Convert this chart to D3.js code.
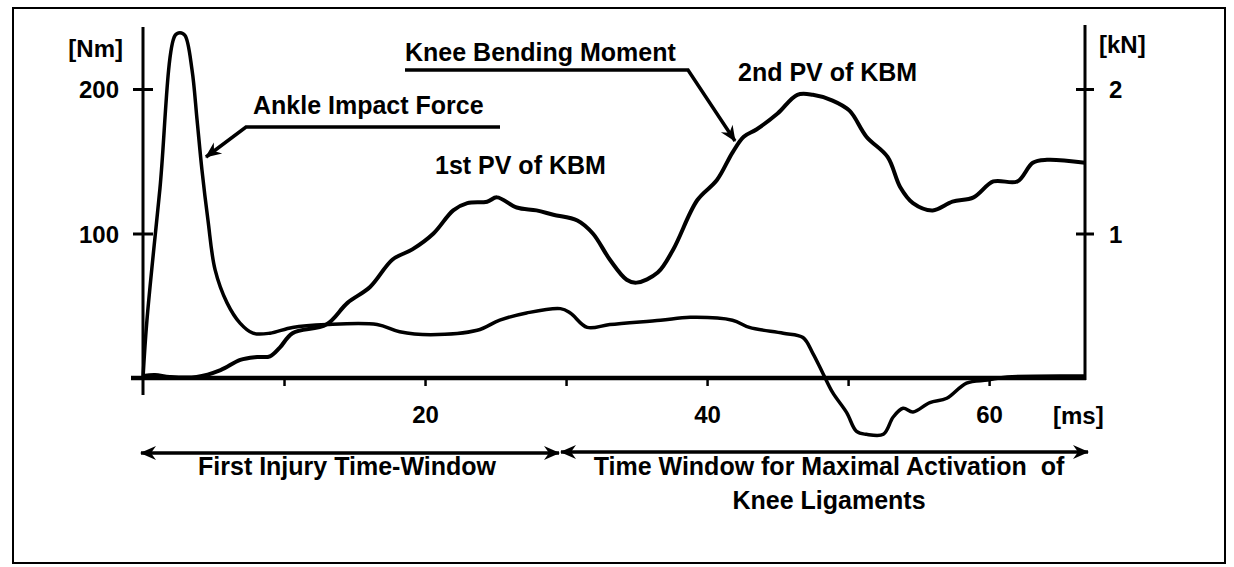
<!DOCTYPE html>
<html>
  <head>
    <meta charset="utf-8" />
    <title>Knee Bending Moment and Ankle Impact Force</title>
    <script src="https://cdnjs.cloudflare.com/ajax/libs/d3/7.8.5/d3.min.js"></script>
    <style>
      body { margin: 0; background: #fff; }
      text { font-family: "Liberation Sans", Arial, sans-serif; font-weight: bold; fill: #000; }
    </style>
  </head>
  <body>
    <div id="chart"></div>
    <script>
  // time [ms]
  var kbmTime = [0, 0.85, 1.9, 3.8, 5.5, 6.9, 8.1, 9.0, 9.7, 10.6, 13.0, 14.5, 16.1, 17.7, 19.1, 20.6, 22.0, 23.0, 24.4, 25.1,
    26.5, 27.9, 29.1, 30.8, 31.9, 33.1, 34.3, 35.0, 36.5, 37.6, 39.3, 40.7, 41.8, 42.6, 43.5, 45.0, 46.4, 47.5, 48.9, 50.1,
    51.3, 52.8, 53.7, 54.6, 56.0, 57.4, 58.9, 60.3, 62.0, 63.1, 64.1, 66.8];
  // knee bending moment [Nm]
  var kbmValue = [1.4, 2, 0.7, 0.7, 5.5, 12.5, 14.5, 15, 21, 31, 37, 52, 63, 82, 89, 100, 116, 121, 122, 125,
    118, 116, 113, 109, 100, 82, 68, 66, 73, 89, 123, 137, 156, 167, 172, 183, 196, 196, 192, 185,
    167, 153, 132, 121, 116, 122, 125, 136, 136, 149, 151, 149];

  var aifTime = [0, 0.28, 1.2, 2.27, 2.62, 2.98, 3.48, 3.83, 4.18, 4.61, 5.11, 5.96, 6.88, 7.8, 9.0, 10.6, 13.0, 16.6, 18.2, 20.4,
    23.7, 25.3, 27.2, 29.6, 30.3, 31.5, 33.1, 36.7, 38.8, 41.8, 43.0, 45.4, 46.8, 47.5, 48.2, 48.9, 49.9, 50.6, 51.3, 52.5,
    53.2, 53.9, 54.6, 55.8, 57.0, 58.4, 59.9, 61.3, 66.8];
  // ankle impact force [kN]
  var aifValue = [0, 0.40, 1.31, 2.37, 2.39, 2.37, 2.13, 1.79, 1.44, 1.09, 0.75, 0.52, 0.38, 0.31, 0.31, 0.35, 0.37, 0.37, 0.32, 0.30,
    0.33, 0.40, 0.45, 0.48, 0.45, 0.35, 0.37, 0.40, 0.42, 0.40, 0.35, 0.31, 0.28, 0.17, 0.035, -0.10, -0.24, -0.37, -0.39, -0.39,
    -0.27, -0.21, -0.235, -0.17, -0.14, -0.035, -0.014, 0.007, 0.014];

  var leftTicks = [100, 200];
  var rightTicks = [1, 2];
  var xTicks = [10, 20, 30, 40, 50, 60];
  var xTickLabels = [20, 40, 60];

  var width = 1234, height = 567;
  var svg = d3.select('#chart').append('svg')
    .attr('width', width)
    .attr('height', height);

  var x = d3.scaleLinear().domain([0, 66.8]).range([143, 1085]);
  var yL = d3.scaleLinear().domain([0, 200]).range([378, 89]);
  var yR = d3.scaleLinear().domain([0, 2]).range([378, 89]);

  // frame
  svg.append('rect')
    .attr('x', 13).attr('y', 8)
    .attr('width', 1212).attr('height', 555)
    .attr('fill', 'none').attr('stroke', '#000').attr('stroke-width', 2);

  var defs = svg.append('defs');
  defs.append('marker')
    .attr('id', 'head')
    .attr('viewBox', '-16 -8 18 16')
    .attr('refX', 0).attr('refY', 0)
    .attr('markerWidth', 18).attr('markerHeight', 16)
    .attr('markerUnits', 'userSpaceOnUse')
    .attr('orient', 'auto-start-reverse')
    .append('path')
    .attr('d', 'M1,0 L-15,-7 L-10,0 L-15,7 Z')
    .attr('fill', '#000');

  // left axis
  var leftAxis = d3.axisLeft(yL).tickValues(leftTicks).tickSize(10).tickPadding(14);
  var gL = svg.append('g').attr('transform', 'translate(143,0)').call(leftAxis);
  gL.select('.domain').remove();
  gL.selectAll('.tick line').attr('x1', 10).attr('x2', -10).attr('stroke', '#000').attr('stroke-width', 3);
  gL.selectAll('.tick text').attr('font-size', 24).attr('font-family', null).attr('dy', '0.36em');
  svg.append('line').attr('x1', 143).attr('x2', 143).attr('y1', 27).attr('y2', 395)
    .attr('stroke', '#000').attr('stroke-width', 3);

  // right axis
  var rightAxis = d3.axisRight(yR).tickValues(rightTicks).tickSize(10).tickPadding(14)
    .tickFormat(d3.format('d'));
  var gR = svg.append('g').attr('transform', 'translate(1085,0)').call(rightAxis);
  gR.select('.domain').remove();
  gR.selectAll('.tick line').attr('x1', -9).attr('x2', 9).attr('stroke', '#000').attr('stroke-width', 3);
  gR.selectAll('.tick text').attr('font-size', 24).attr('font-family', null).attr('dy', '0.36em');
  svg.append('line').attr('x1', 1085).attr('x2', 1085).attr('y1', 25).attr('y2', 380)
    .attr('stroke', '#000').attr('stroke-width', 3);

  // time axis
  var xAxis = d3.axisBottom(x).tickValues(xTicks).tickSize(8).tickPadding(20)
    .tickFormat(function(d){ return xTickLabels.indexOf(d) >= 0 ? d : ''; });
  var gX = svg.append('g').attr('transform', 'translate(0,378)').call(xAxis);
  gX.select('.domain').remove();
  gX.selectAll('.tick line').attr('stroke', '#000').attr('stroke-width', 2.5);
  gX.selectAll('.tick text').attr('font-size', 24).attr('font-family', null);
  svg.append('line').attr('x1', 131).attr('x2', 1086).attr('y1', 378).attr('y2', 378)
    .attr('stroke', '#000').attr('stroke-width', 4.5);

  // units
  svg.append('text').attr('x', 123).attr('y', 48).attr('dy', '0.36em').attr('text-anchor', 'end')
    .attr('font-size', 24).text('[Nm]');
  svg.append('text').attr('x', 1099).attr('y', 44).attr('dy', '0.36em')
    .attr('font-size', 24).text('[kN]');
  svg.append('text').attr('x', 1053).attr('y', 415).attr('dy', '0.36em')
    .attr('font-size', 24).text('[ms]');

  // curves
  var kbm = kbmTime.map(function(t, i){ return [t, kbmValue[i]]; });
  var aif = aifTime.map(function(t, i){ return [t, aifValue[i]]; });

  var lineL = d3.line().x(function(d){ return x(d[0]); }).y(function(d){ return yL(d[1]); })
    .curve(d3.curveCatmullRom.alpha(0.5));
  var lineR = d3.line().x(function(d){ return x(d[0]); }).y(function(d){ return yR(d[1]); })
    .curve(d3.curveCatmullRom.alpha(0.5));

  svg.append('path').datum(aif).attr('d', lineR)
    .attr('fill', 'none').attr('stroke', '#000').attr('stroke-width', 3.5).attr('stroke-linejoin', 'round');
  svg.append('path').datum(kbm).attr('d', lineL)
    .attr('fill', 'none').attr('stroke', '#000').attr('stroke-width', 4).attr('stroke-linejoin', 'round');

  // annotations
  var fs = 25;
  svg.append('text').attr('x', 253).attr('y', 114).attr('font-size', fs).text('Ankle Impact Force');
  svg.append('path').attr('d', 'M500,127 L246,127 L206,157')
    .attr('fill', 'none').attr('stroke', '#000').attr('stroke-width', 3.5).attr('marker-end', 'url(#head)');

  svg.append('text').attr('x', 405).attr('y', 61).attr('font-size', fs).text('Knee Bending Moment');
  svg.append('path').attr('d', 'M405,70 L688,70 L735,141')
    .attr('fill', 'none').attr('stroke', '#000').attr('stroke-width', 3.5).attr('marker-end', 'url(#head)');

  svg.append('text').attr('x', 435).attr('y', 174).attr('font-size', fs).text('1st PV of KBM');
  svg.append('text').attr('x', 738).attr('y', 81).attr('font-size', fs).text('2nd PV of KBM');

  // time windows
  svg.append('line').attr('x1', 141).attr('x2', 559).attr('y1', 453).attr('y2', 453)
    .attr('stroke', '#000').attr('stroke-width', 3.5)
    .attr('marker-start', 'url(#head)').attr('marker-end', 'url(#head)');
  svg.append('line').attr('x1', 561).attr('x2', 1088).attr('y1', 452).attr('y2', 452)
    .attr('stroke', '#000').attr('stroke-width', 3.5)
    .attr('marker-start', 'url(#head)').attr('marker-end', 'url(#head)');

  svg.append('text').attr('x', 347).attr('y', 475).attr('text-anchor', 'middle').attr('font-size', fs)
    .text('First Injury Time-Window');
  svg.append('text').attr('x', 829).attr('y', 475).attr('text-anchor', 'middle').attr('font-size', fs)
    .attr('xml:space', 'preserve').text('Time Window for Maximal Activation  of');
  svg.append('text').attr('x', 829).attr('y', 509).attr('text-anchor', 'middle').attr('font-size', fs)
    .text('Knee Ligaments');
    </script>
  </body>
</html>
